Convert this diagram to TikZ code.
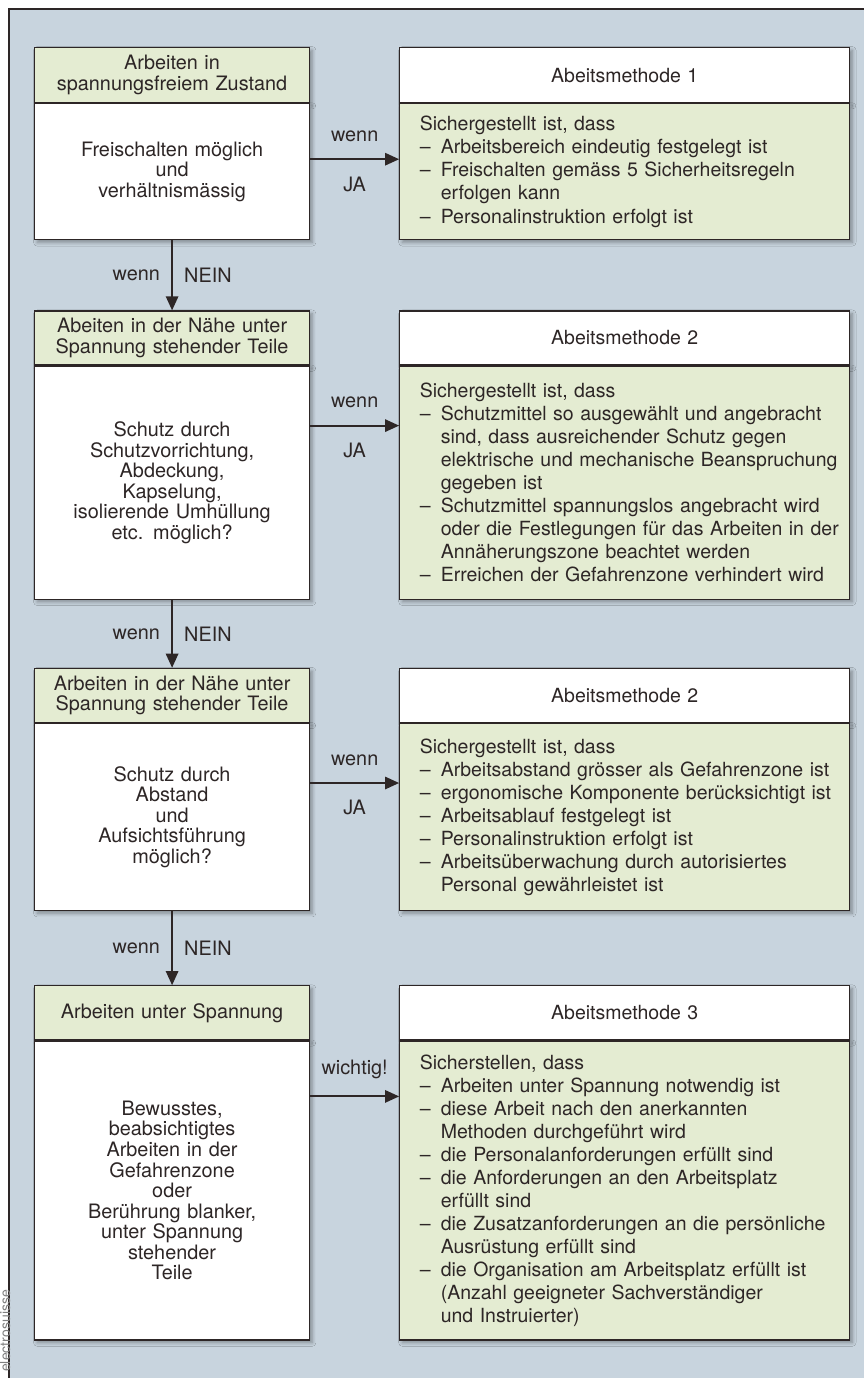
\documentclass[tikz,border=0pt]{standalone}
\usepackage{fontspec}
\setmainfont{TeX Gyre Heros}
\usetikzlibrary{positioning,arrows.meta,shadows.blur}

\definecolor{backgr}{RGB}{200,212,222}
\definecolor{pale}{RGB}{228,236,210}
\definecolor{ink}{RGB}{45,38,38}

\newcommand{\itm}[1]{\makebox[0.42cm][l]{–}\mbox{#1}}
\newcommand{\cnt}[1]{\hspace*{0.42cm}\mbox{#1}}

\tikzset{
  box/.style={draw=ink, line width=0.7pt, text=ink, inner ysep=2pt,
    blur shadow={shadow xshift=1.5pt, shadow yshift=-1.5pt, shadow blur steps=6, shadow opacity=35}},
  lhead/.style={box, fill=pale, text width=4.9cm, inner xsep=0.3cm, minimum height=1.08cm,
    align=center, font=\fontsize{11.3}{11.7}\selectfont},
  lbody/.style={box, fill=white, text width=4.9cm, inner xsep=0.3cm,
    align=center, font=\fontsize{11.3}{11.7}\selectfont},
  rhead/.style={box, fill=white, text width=8.2cm, inner xsep=0.4cm, minimum height=1.08cm,
    align=center, font=\fontsize{11.1}{13.1}\selectfont},
  rbody/.style={box, fill=pale, text width=8.2cm, inner xsep=0.4cm,
    align=left, font=\fontsize{11.1}{13.1}\selectfont},
  flow/.style={draw=ink, line width=1.1pt, -{Triangle[length=8pt,width=7pt]}},
  lbl/.style={text=ink, font=\fontsize{11.3}{13}\selectfont}
}

\begin{document}
\begin{tikzpicture}[x=0.02cm,y=-0.02cm]
  \useasboundingbox (0,0) rectangle (864,1378);
  % frame
  \fill[backgr] (9,9) rectangle (864,1378);
  \draw[ink, line width=0.8pt] (9,1378) -- (9,9) -- (864,9);
  \node[rotate=90, anchor=west, text=gray, inner sep=1pt, font=\fontsize{8}{9}\selectfont] (src) at (5,1374) {electrosuisse};

  % step 1
  \node[lhead, anchor=north west, minimum height=1.1cm] (h1) at (34,47) {Arbeiten in\\spannungsfreiem Zustand};
  \node[lbody, minimum height=2.72cm, below=0pt of h1] (b1) {Freischalten möglich\\und\\verhältnismässig};
  \node[rhead, minimum height=1.1cm, right=1.78cm of h1] (mh1) {Abeitsmethode 1};
  \node[rbody, minimum height=2.72cm, below=0pt of mh1] (mb1) {Sichergestellt ist, dass\\
    \itm{Arbeitsbereich eindeutig festgelegt ist}\\
    \itm{Freischalten gemäss 5 Sicherheitsregeln}\\
    \cnt{erfolgen kann}\\
    \itm{Personalinstruktion erfolgt ist}};

  % step 2
  \node[lhead, below=1.4cm of b1] (h2) {Abeiten in der Nähe unter\\Spannung stehender Teile};
  \node[lbody, minimum height=4.66cm, below=0pt of h2] (b2) {Schutz durch\\Schutzvorrichtung,\\Abdeckung,\\Kapselung,\\isolierende Umhüllung\\etc. möglich?};
  \node[rhead, right=1.78cm of h2] (mh2) {Abeitsmethode 2};
  \node[rbody, minimum height=4.66cm, below=0pt of mh2] (mb2) {Sichergestellt ist, dass\\
    \itm{Schutzmittel so ausgewählt und angebracht}\\
    \cnt{sind, dass ausreichender Schutz gegen}\\
    \cnt{elektrische und mechanische Beanspruchung}\\
    \cnt{gegeben ist}\\
    \itm{Schutzmittel spannungslos angebracht wird}\\
    \cnt{oder die Festlegungen für das Arbeiten in der}\\
    \cnt{Annäherungszone beachtet werden}\\
    \itm{Erreichen der Gefahrenzone verhindert wird}};

  % step 3
  \node[lhead, below=1.36cm of b2] (h3) {Arbeiten in der Nähe unter\\Spannung stehender Teile};
  \node[lbody, minimum height=3.74cm, below=0pt of h3] (b3) {Schutz durch\\Abstand\\und\\Aufsichtsführung\\möglich?};
  \node[rhead, right=1.78cm of h3] (mh3) {Abeitsmethode 2};
  \node[rbody, minimum height=3.74cm, below=0pt of mh3] (mb3) {Sichergestellt ist, dass\\
    \itm{Arbeitsabstand grösser als Gefahrenzone ist}\\
    \itm{ergonomische Komponente berücksichtigt ist}\\
    \itm{Arbeitsablauf festgelegt ist}\\
    \itm{Personalinstruktion erfolgt ist}\\
    \itm{Arbeitsüberwachung durch autorisiertes}\\
    \cnt{Personal gewährleistet ist}};

  % step 4
  \node[lhead, below=1.48cm of b3] (h4) {Arbeiten unter Spannung};
  \node[lbody, minimum height=5.98cm, below=0pt of h4] (b4) {Bewusstes,\\beabsichtigtes\\Arbeiten in der\\Gefahrenzone\\oder\\Berührung blanker,\\unter Spannung\\stehender\\Teile};
  \node[rhead, right=1.78cm of h4] (mh4) {Abeitsmethode 3};
  \node[rbody, minimum height=5.98cm, below=0pt of mh4] (mb4) {Sicherstellen, dass\\
    \itm{Arbeiten unter Spannung notwendig ist}\\
    \itm{diese Arbeit nach den anerkannten}\\
    \cnt{Methoden durchgeführt wird}\\
    \itm{die Personalanforderungen erfüllt sind}\\
    \itm{die Anforderungen an den Arbeitsplatz}\\
    \cnt{erfüllt sind}\\
    \itm{die Zusatzanforderungen an die persönliche}\\
    \cnt{Ausrüstung erfüllt sind}\\
    \itm{die Organisation am Arbeitsplatz erfüllt ist}\\
    \cnt{(Anzahl geeigneter Sachverständiger}\\
    \cnt{und Instruierter)}};

  % connectors
  \draw[flow] ([yshift=-1.12cm]b1.north east) -- ([yshift=-1.12cm]mb1.north west)
    node[midway, above=6pt, lbl] {wenn} node[midway, below=6pt, lbl] {JA};
  \draw[flow] ([yshift=-1.2cm]b2.north east) -- ([yshift=-1.2cm]mb2.north west)
    node[midway, above=6pt, lbl] {wenn} node[midway, below=6pt, lbl] {JA};
  \draw[flow] ([yshift=-1.2cm]b3.north east) -- ([yshift=-1.2cm]mb3.north west)
    node[midway, above=6pt, lbl] {wenn} node[midway, below=6pt, lbl] {JA};
  \draw[flow] ([yshift=-1.12cm]b4.north east) -- ([yshift=-1.12cm]mb4.north west)
    node[midway, above=6pt, lbl] {wichtig!};
  \draw[flow] (b1) -- (h2) node[midway, left=3pt, lbl] {wenn} node[midway, right=3pt, lbl] {NEIN};
  \draw[flow] (b2) -- (h3) node[midway, left=3pt, lbl] {wenn} node[midway, right=3pt, lbl] {NEIN};
  \draw[flow] (b3) -- (h4) node[midway, left=3pt, lbl] {wenn} node[midway, right=3pt, lbl] {NEIN};
\end{tikzpicture}
\end{document}
